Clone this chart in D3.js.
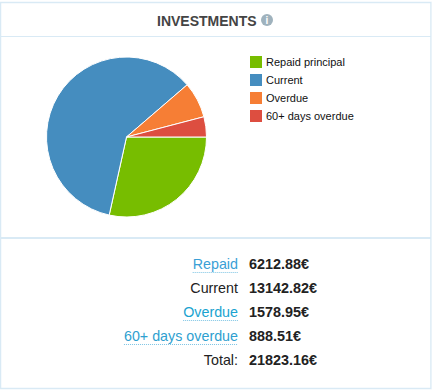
<!DOCTYPE html>
<html>
<head>
<meta charset="utf-8">
<script src="https://cdn.jsdelivr.net/npm/d3@7"></script>
<style>
  html, body { margin: 0; padding: 0; background: #fff; }
  svg { display: block; font-family: "Liberation Sans", Arial, sans-serif; }
</style>
</head>
<body>
<script>
// Chart values
const categories = ["Repaid principal", "Current", "Overdue", "60+ days overdue"];
const values = [6212.88, 13142.82, 1578.95, 888.51];
const colors = ["#77bd00", "#458dbf", "#f67e35", "#dd4e40"];
const rowLabels = ["Repaid", "Current", "Overdue", "60+ days overdue", "Total:"];
const rowAmounts = ["6212.88€", "13142.82€", "1578.95€", "888.51€", "21823.16€"];
const rowColors = ["#3a9fd6", "#222222", "#1aa3d0", "#2f9fd0", "#222222"];
const rowLinked = [true, false, true, true, false];

const width = 433, height = 390;
const borderColor = "#d9eaf5";

const svg = d3.select("body").append("svg")
    .attr("width", width)
    .attr("height", height);

// Panel frame and dividers
svg.append("rect")
    .attr("x", 0.5).attr("y", 2.5)
    .attr("width", 430.5).attr("height", 386)
    .attr("fill", "none")
    .attr("stroke", borderColor)
    .attr("stroke-width", 1.5);
svg.append("line")
    .attr("x1", 431.5).attr("x2", 431.5).attr("y1", 2).attr("y2", 389)
    .attr("stroke", "#eaf3f9").attr("stroke-width", 1);
svg.append("line")
    .attr("x1", 1).attr("x2", 431).attr("y1", 36.5).attr("y2", 36.5)
    .attr("stroke", borderColor).attr("stroke-width", 1);
svg.append("line")
    .attr("x1", 1).attr("x2", 431).attr("y1", 238).attr("y2", 238)
    .attr("stroke", borderColor).attr("stroke-width", 2);

// Title with the info icon
svg.append("text")
    .attr("x", 157).attr("y", 26)
    .attr("fill", "#444444")
    .attr("font-size", 14)
    .attr("font-weight", "bold")
    .text("INVESTMENTS");
const info = svg.append("g").attr("transform", "translate(267,20)");
info.append("circle").attr("r", 6).attr("fill", "#9fb2bd");
info.append("text")
    .attr("y", 4)
    .attr("text-anchor", "middle")
    .attr("fill", "#fff")
    .attr("font-size", 10)
    .attr("font-weight", "bold")
    .text("i");

// Pie, clockwise from 3 o'clock
const pie = d3.pie().sort(null)
    .startAngle(Math.PI / 2)
    .endAngle(Math.PI / 2 + 2 * Math.PI);
const arc = d3.arc().innerRadius(0).outerRadius(80);
svg.append("g")
    .attr("transform", "translate(126.5,137)")
    .selectAll("path")
    .data(pie(values))
    .join("path")
    .attr("d", arc)
    .attr("fill", (d, i) => colors[i])
    .attr("stroke", "#fff")
    .attr("stroke-width", 1);

// Legend
const legendY = d3.scalePoint().domain(categories).range([62, 116]);
const legend = svg.append("g").selectAll("g")
    .data(categories)
    .join("g")
    .attr("transform", d => `translate(250,${legendY(d)})`);
legend.append("rect")
    .attr("x", 0).attr("y", -6)
    .attr("width", 12).attr("height", 12)
    .attr("fill", (d, i) => colors[i]);
legend.append("text")
    .attr("x", 16).attr("y", 4)
    .attr("fill", "#111111")
    .attr("font-size", 11)
    .text(d => d);

// Summary table
const rowY = d3.scalePoint().domain(rowLabels).range([269, 365]);
const rows = svg.append("g").selectAll("g")
    .data(rowLabels)
    .join("g")
    .attr("transform", d => `translate(0,${rowY(d)})`);
rows.append("text")
    .attr("x", 238)
    .attr("text-anchor", "end")
    .attr("fill", (d, i) => rowColors[i])
    .attr("font-size", 14.3)
    .text(d => d);
rows.append("text")
    .attr("x", 249)
    .attr("fill", "#222222")
    .attr("font-size", 14.4)
    .attr("font-weight", "bold")
    .text((d, i) => rowAmounts[i]);

// Dotted underlines below the linked labels
rows.filter((d, i) => rowLinked[i])
    .append("line")
    .attr("x2", 238)
    .attr("x1", function() {
        return 238 - this.parentNode.querySelector("text").getComputedTextLength();
    })
    .attr("y1", 3.5).attr("y2", 3.5)
    .attr("stroke", "#7cc4e4")
    .attr("stroke-width", 1)
    .attr("stroke-dasharray", "1,1");
</script>
</body>
</html>
